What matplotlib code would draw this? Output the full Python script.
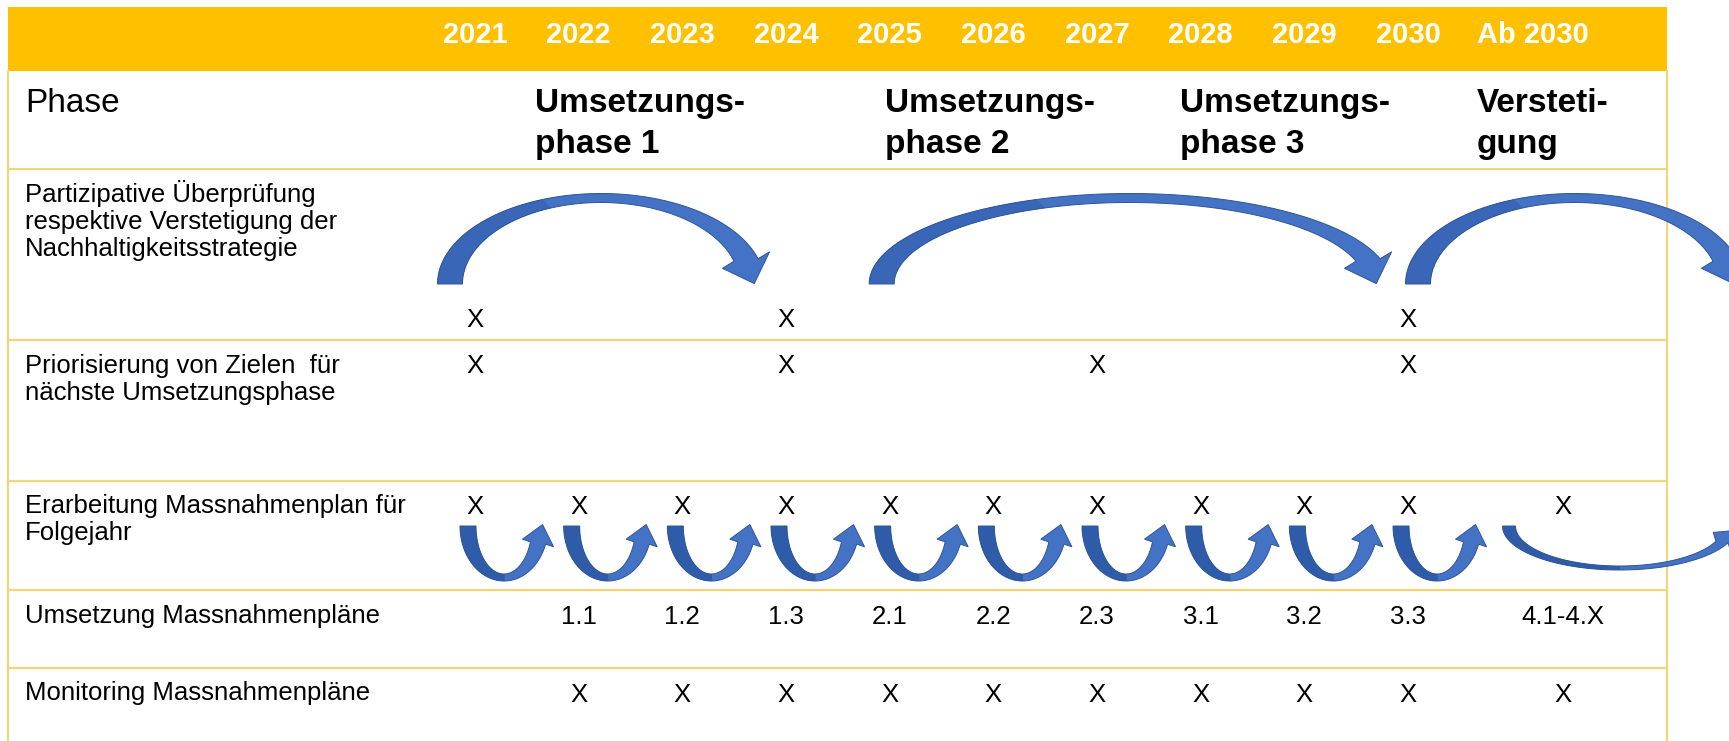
import matplotlib

matplotlib.use("Agg")
import matplotlib.pyplot as plt
import numpy as np
from matplotlib.patches import Polygon, Rectangle

plt.rcParams["font.family"] = ["Liberation Sans", "DejaVu Sans"]

# Daten
years = ["2021", "2022", "2023", "2024", "2025", "2026", "2027", "2028", "2029", "2030", "Ab 2030"]
phase_title = "Phase"
phase_labels = ["Umsetzungs-\nphase 1", "Umsetzungs-\nphase 2", "Umsetzungs-\nphase 3", "Versteti-\ngung"]
row_labels = [
    "Partizipative Überprüfung\nrespektive Verstetigung der\nNachhaltigkeitsstrategie",
    "Priorisierung von Zielen  für\nnächste Umsetzungsphase",
    "Erarbeitung Massnahmenplan für\nFolgejahr",
    "Umsetzung Massnahmenpläne",
    "Monitoring Massnahmenpläne",
]
partizipativ = ["X", "", "", "X", "", "", "", "", "", "X", ""]
priorisierung = ["X", "", "", "X", "", "", "X", "", "", "X", ""]
erarbeitung = ["X", "X", "X", "X", "X", "X", "X", "X", "X", "X", "X"]
umsetzung = ["", "1.1", "1.2", "1.3", "2.1", "2.2", "2.3", "3.1", "3.2", "3.3", "4.1-4.X"]
monitoring = ["", "X", "X", "X", "X", "X", "X", "X", "X", "X", "X"]
cells = [partizipativ, priorisierung, erarbeitung, umsetzung, monitoring]

# Bögen: Überprüfung von Jahr -> bis Jahr (None = über die Tabelle hinaus)
review_from = ["2021", "2025", "2030"]
review_to = ["2024", "2030", None]
# jährliche Pfeile in der Zeile Massnahmenplan
yearly_from = years[:10]

# Layout (Pixel)
W, H = 1729, 741
x_first, x_step = 475, 103.67
x_ab = 1563
col_x = {y: x_first + i * x_step for i, y in enumerate(years[:10])}
col_x["Ab 2030"] = x_ab
left, right = 8, 1667
head_top, head_bot = 7, 71
row_lines = [169, 340, 481, 590, 668]
label_x = 25
label_base = [202, 373, 513, 623, 700]
mark_base = [327, 373, 514, 624, 702]
line_pitch = 27
phase_x = [535, 885, 1180, 1477]
gold = "#FFC000"
line_col = "#F3D57A"
blue = "#4472C4"
blue_dark = "#2F5CA8"
edge = "#2F5597"

fig = plt.figure(figsize=(W / 100, H / 100), dpi=100)
ax = fig.add_axes([0, 0, 1, 1])
ax.set_xlim(0, W)
ax.set_ylim(H, 0)
ax.axis("off")

# Tabellenrahmen
ax.add_patch(Rectangle((left, head_top), right - left, head_bot - head_top, fc=gold, ec="none", zorder=1))
for y in row_lines:
    ax.plot([left, right], [y, y], color=line_col, lw=1.6, zorder=1)
for x in (left, right):
    ax.plot([x, x], [head_bot, H], color=line_col, lw=1.6, zorder=1)

# Kopfzeile
for y in years:
    xc = col_x[y] if y != "Ab 2030" else 1533
    ax.text(xc, 43, y, color="white", fontsize=21, fontweight="bold", ha="center", va="baseline", zorder=3)

# Phasenzeile
ax.text(label_x, 112, phase_title, fontsize=24, va="baseline", zorder=3)
for x, lab in zip(phase_x, phase_labels):
    for k, part in enumerate(lab.split("\n")):
        ax.text(x, 112 + k * 41, part, fontsize=24, fontweight="bold", va="baseline", zorder=3)

# Zeilenbeschriftungen
for base, lab in zip(label_base, row_labels):
    for k, part in enumerate(lab.split("\n")):
        ax.text(label_x, base + k * line_pitch, part, fontsize=18.5, va="baseline", zorder=3)

# Zelleneinträge
for base, row in zip(mark_base, cells):
    for y, val in zip(years, row):
        if val:
            ax.text(col_x[y], base, val, fontsize=18.5, ha="center", va="baseline", zorder=3)


def ell(cx, cy, a, b, ts, sign):
    return np.column_stack([cx + a * np.cos(ts), cy + sign * b * np.sin(ts)])


def block_arrow(cx, cy, a, b, wa, wb, phi, head_w, head_l, sign, split, dark, light, head_dir=None):
    ts = np.linspace(np.pi, phi, 160)
    outer = ell(cx, cy, a + wa / 2, b + wb / 2, ts, sign)
    inner = ell(cx, cy, a - wa / 2, b - wb / 2, ts, sign)
    p = ell(cx, cy, a, b, np.array([phi]), sign)[0]
    if head_dir is None:
        d = np.array([a * np.sin(phi), -sign * b * np.cos(phi)])
    else:
        d = np.array(head_dir, dtype=float)
    d /= np.linalg.norm(d)
    n = np.array([-d[1], d[0]])
    b1, b2 = p + n * head_w / 2, p - n * head_w / 2
    if np.linalg.norm(b1 - outer[-1]) > np.linalg.norm(b2 - outer[-1]):
        b1, b2 = b2, b1
    tip = p + d * head_l
    full = np.vstack([outer, b1, tip, b2, inner[::-1]])
    ax.add_patch(Polygon(full, closed=True, fc=light, ec="none", zorder=4))
    k = np.searchsorted(-ts, -split)
    part = np.vstack([outer[: k + 1], inner[: k + 1][::-1]])
    ax.add_patch(Polygon(part, closed=True, fc=dark, ec="none", zorder=4))
    ax.add_patch(Polygon(full, closed=True, fill=False, ec=edge, lw=0.7, zorder=5))


# große Bögen (Überprüfung)
foot_off = [-25, -8, 10]
for i, (y0, y1) in enumerate(zip(review_from, review_to)):
    foot = col_x[y0] + foot_off[i]
    end = col_x[y1] - 40 if y1 else x_ab + 162
    phi = np.arcsin(24 / 86)
    a = (end - foot) / (1 + np.cos(phi))
    block_arrow(foot + a, 284, a, 86, 25, 9, phi, 50, 25, -1, 0.62 * np.pi, "#3A66B8", blue,
                head_dir=(0.35, 1))

# jährliche U-Pfeile
for y0 in yearly_from:
    foot = col_x[y0] - 7
    phi = np.arcsin(17 / 51.5)
    a = 70 / (1 + np.cos(phi))
    block_arrow(foot + a, 526, a, 51.5, 16, 7, phi, 32, 19, 1, np.pi / 2, blue_dark, blue)

# flacher Bogen ab 2030
foot = x_ab - 54
phi = np.arcsin(16 / 42)
a = 213 / (1 + np.cos(phi))
block_arrow(foot + a, 526, a, 42, 13, 4, phi, 26, 17, 1, np.pi / 2, blue_dark, blue)

fig.savefig("out.png", dpi=100)
